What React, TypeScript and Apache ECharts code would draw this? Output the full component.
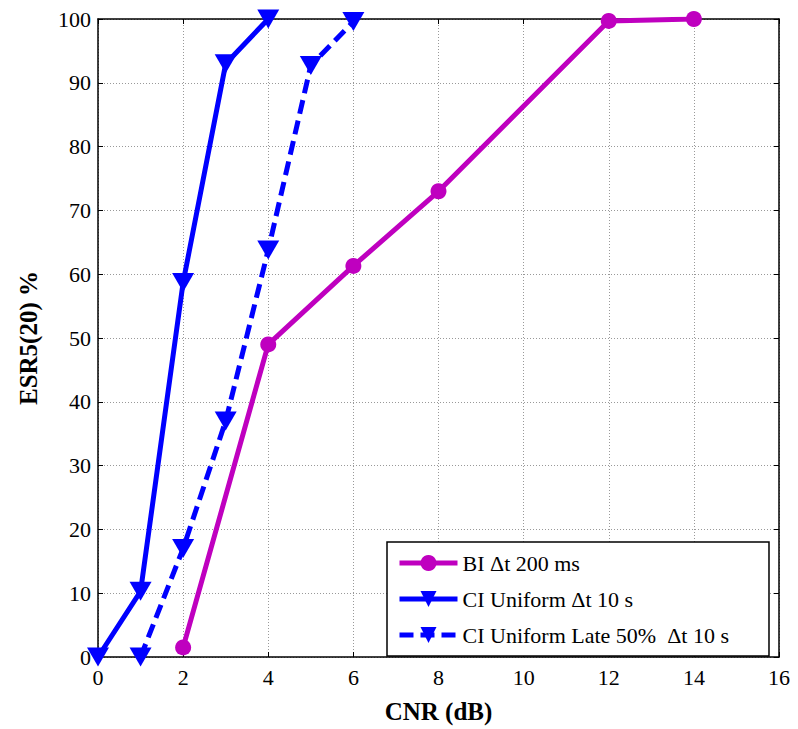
import React, { useEffect, useRef } from "react";
import * as echarts from "echarts";

const biX = [2, 4, 6, 8, 12, 14];
const biY = [1.5, 49, 61.3, 73, 99.7, 100];
const ciX = [0, 1, 2, 3, 4];
const ciY = [0, 10.3, 58.7, 93, 100];
const lateX = [1, 2, 3, 4, 5, 6];
const lateY = [0, 17, 37, 63.8, 92.7, 99.6];
const seriesNames = ["BI \u0394t 200 ms", "CI Uniform \u0394t 10 s", "CI Uniform Late 50%  \u0394t 10 s"];

const FF = "Liberation Serif";

export default function App() {
  const ref = useRef<HTMLDivElement>(null);
  useEffect(() => {
    const chart = echarts.init(ref.current!, null, { renderer: "svg" });
    const zip = (xs: number[], ys: number[]) => xs.map((x, i) => [x, ys[i]]);
    const lbl = (m: number) => ({ color: "#000", fontFamily: FF, fontSize: 22, margin: m });
    const axisLine = { show: true, onZero: false, lineStyle: { color: "#000", width: 1.5 } };
    const axisTick = { show: true, inside: true, length: 5, lineStyle: { color: "#000" } };
    const splitLine = { show: true, lineStyle: { color: "#999", type: [1, 2], width: 1 } };
    chart.setOption({
      animation: false,
      grid: { left: 87, right: 19, top: 11, bottom: 67 },
      xAxis: [
        {
          type: "value", min: 0, max: 16, interval: 2,
          axisLine, axisTick, splitLine,
          axisLabel: lbl(9),
          name: "CNR (dB)", nameLocation: "middle", nameGap: 42,
          nameTextStyle: { color: "#000", fontFamily: FF, fontSize: 25, fontWeight: "bold" },
        },
        {
          type: "value", min: 0, max: 16, interval: 2, position: "top",
          axisLine, axisTick, splitLine: { show: false }, axisLabel: { show: false },
        },
      ],
      yAxis: [
        {
          type: "value", min: 0, max: 100, interval: 10,
          axisLine, axisTick, splitLine,
          axisLabel: lbl(7),
          name: "ESR5(20) %", nameLocation: "middle", nameGap: 57,
          nameTextStyle: { color: "#000", fontFamily: FF, fontSize: 25, fontWeight: "bold" },
        },
        {
          type: "value", min: 0, max: 100, interval: 10, position: "right",
          axisLine, axisTick, splitLine: { show: false }, axisLabel: { show: false },
        },
      ],
      legend: {
        orient: "vertical",
        left: 379,
        top: 534,
        padding: [10, 40, 10, 10],
        itemGap: 14,
        itemWidth: 58,
        itemHeight: 20,
        borderColor: "#000",
        borderWidth: 1.5,
        backgroundColor: "#fff",
        lineStyle: { width: 5 },
        textStyle: { color: "#000", fontFamily: FF, fontSize: 22 },
        data: seriesNames,
      },
      series: [
        {
          name: seriesNames[0], type: "line", data: zip(biX, biY),
          symbol: "circle", symbolSize: 16,
          lineStyle: { color: "#BF00BF", width: 5 }, itemStyle: { color: "#BF00BF" }, z: 3,
        },
        {
          name: seriesNames[1], type: "line", data: zip(ciX, ciY),
          symbol: "triangle", symbolRotate: 180, symbolSize: [22, 19],
          lineStyle: { color: "#0000FF", width: 5 }, itemStyle: { color: "#0000FF" }, z: 4,
        },
        {
          name: seriesNames[2], type: "line", data: zip(lateX, lateY),
          symbol: "triangle", symbolRotate: 180, symbolSize: [22, 19],
          lineStyle: { color: "#0000FF", width: 5, type: [14, 7] }, itemStyle: { color: "#0000FF" }, z: 4,
        },
      ],
    });
    return () => chart.dispose();
  }, []);
  return <div ref={ref} style={{ width: 790, height: 721 }} />;
}
